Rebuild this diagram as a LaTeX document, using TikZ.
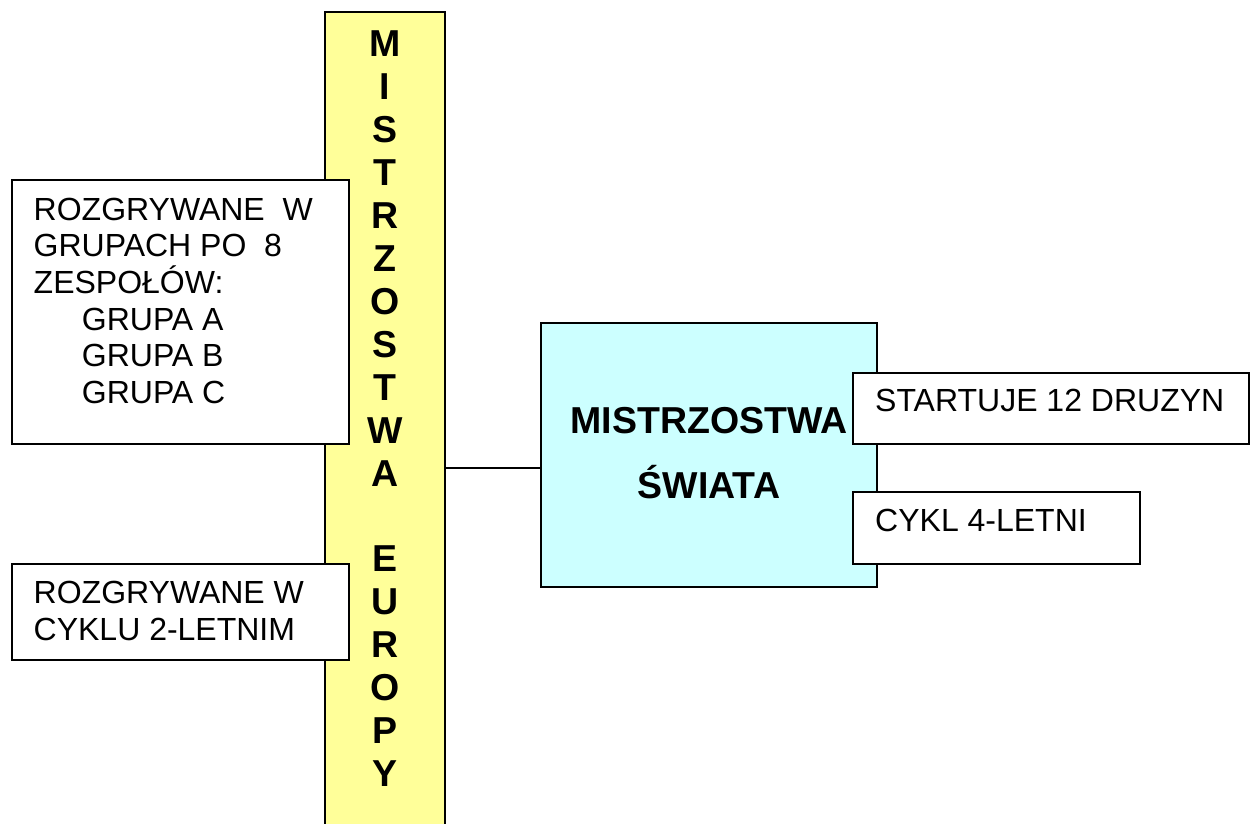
\documentclass[tikz,border=0pt]{standalone}
\usepackage{fontspec}
\setmainfont{Liberation Sans}
\definecolor{ybar}{HTML}{FFFF99}
\definecolor{cbox}{HTML}{CCFFFF}
\begin{document}
\begin{tikzpicture}[x=1pt,y=-1pt,
  box/.style={draw=black,line width=2pt,rectangle,inner sep=0pt,outer sep=0pt,anchor=north west},
  txt/.style={anchor=base west,inner sep=0pt,font=\fontsize{32}{36.7}\selectfont},
  btxt/.style={anchor=base,inner sep=0pt,font=\bfseries\fontsize{37.5}{43}\selectfont},
  conn/.style={draw=black,line width=2pt}]
\useasboundingbox[fill=white] (0,0) rectangle (1250,824);
% yellow bar
\node[box,fill=ybar,minimum width=120pt,minimum height=830pt] (bar) at (325,12) {};
\foreach \L [count=\i from 0] in {M,I,S,T,R,Z,O,S,T,W,A,{},E,U,R,O,P,Y}
  \node[btxt] (bl\i) at (385,{56.7+42.94*\i}) {\L};
% left boxes
\node[box,fill=white,minimum width=337pt,minimum height=264pt] (lb1) at (12,180) {};
\node[txt] (t11) at (33.5,220) {ROZGRYWANE~~W};
\node[txt] (t12) at (33.5,256.7) {GRUPACH PO~~8};
\node[txt] (t13) at (33.5,293.4) {ZESPOŁÓW:};
\node[txt] (t14) at (81.7,330.1) {GRUPA A};
\node[txt] (t15) at (81.7,366.8) {GRUPA B};
\node[txt] (t16) at (81.7,403.5) {GRUPA C};
\node[box,fill=white,minimum width=337pt,minimum height=96pt] (lb2) at (12,564) {};
\node[txt] (t21) at (33.5,603) {ROZGRYWANE W};
\node[txt] (t22) at (33.5,640) {CYKLU 2-LETNIM};
% cyan box
\node[box,fill=cbox,minimum width=336pt,minimum height=264pt] (ms) at (541,323) {};
\node[btxt] (ms1) at (709,433.3) {MISTRZOSTWA};
\node[btxt] (ms2) at (709,498.3) {ŚWIATA};
% right boxes
\node[box,fill=white,minimum width=396pt,minimum height=71pt] (rb1) at (853,373) {};
\node[txt] (r1) at (875,411.7) {STARTUJE 12 DRUZYN};
\node[box,fill=white,minimum width=287pt,minimum height=72pt] (rb2) at (853,492) {};
\node[txt] (r2) at (875,531.7) {CYKL 4-LETNI};
% connector
\coordinate (cy) at (0,467.5);
\draw[conn] (bar.east |- cy) -- (ms.west |- cy);
\end{tikzpicture}
\end{document}
